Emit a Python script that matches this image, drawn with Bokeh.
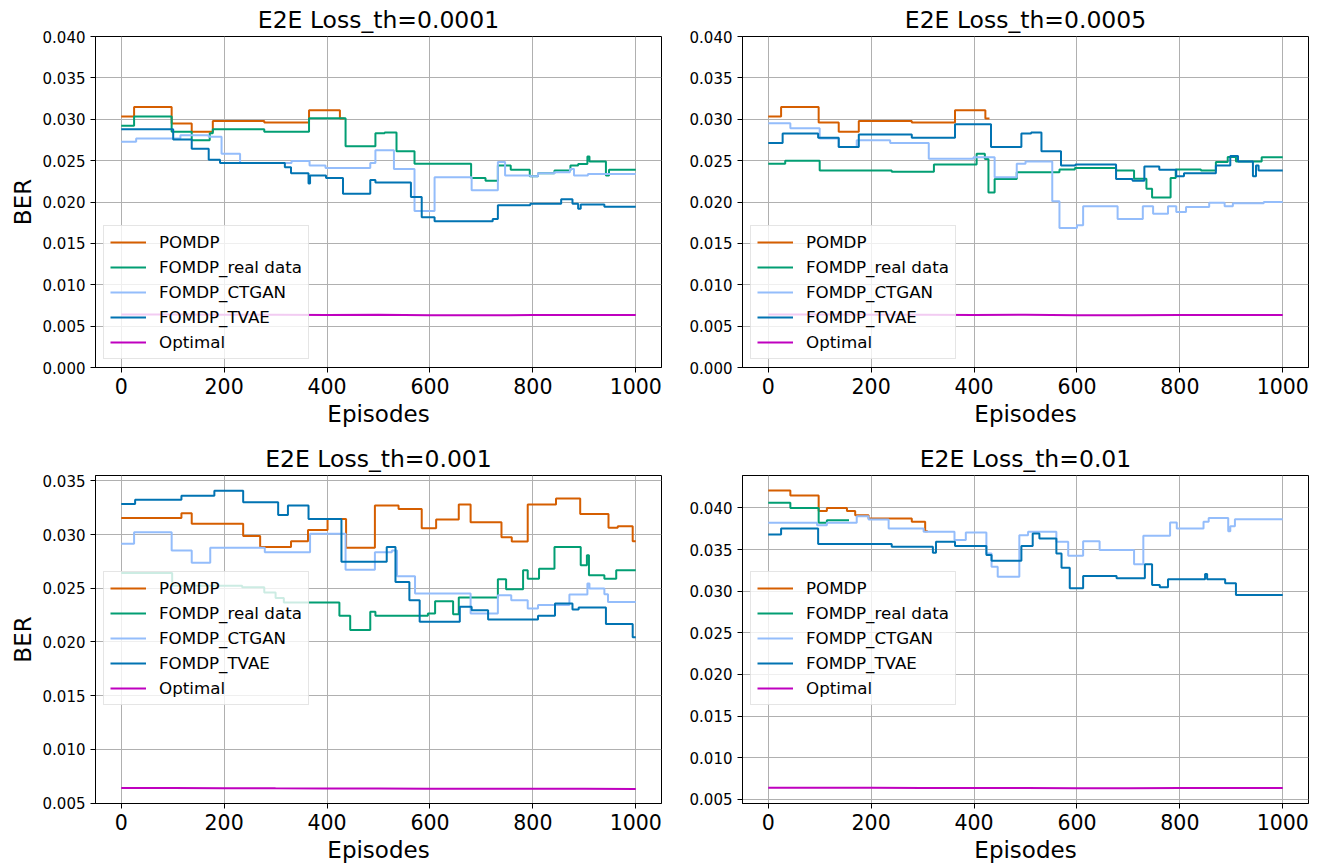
from bokeh.plotting import figure
from bokeh.layouts import gridplot
from bokeh.models import Range1d, FixedTicker, PrintfTickFormatter
from bokeh.embed import file_html
from bokeh.resources import INLINE

# ---------------- data ----------------
series_names = ["POMDP", "FOMDP_real data", "FOMDP_CTGAN", "FOMDP_TVAE", "Optimal"]
titles = ["E2E Loss_th=0.0001", "E2E Loss_th=0.0005", "E2E Loss_th=0.001", "E2E Loss_th=0.01"]
x_ticks = [0, 200, 400, 600, 800, 1000]
y_ticks_top = [0.000, 0.005, 0.010, 0.015, 0.020, 0.025, 0.030, 0.035, 0.040]
y_ticks_p3 = [0.005, 0.010, 0.015, 0.020, 0.025, 0.030, 0.035]
y_ticks_p4 = [0.005, 0.010, 0.015, 0.020, 0.025, 0.030, 0.035, 0.040]

# Panel 1: th=0.0001
p1_pomdp_x = [0, 25, 98, 137, 178, 278, 365, 425, 434]
p1_pomdp_y = [0.03033, 0.03147, 0.0295, 0.0285, 0.0298, 0.0296, 0.0311, 0.0301, 0.0301]
p1_real_x = [0, 25, 98, 137, 172, 178, 278, 365, 436, 494, 512, 535, 570, 680, 708, 732, 757,
             794, 810, 842, 873, 888, 906, 910, 942, 948, 1000]
p1_real_y = [0.02922, 0.03033, 0.0285, 0.02747, 0.0283, 0.02878, 0.0285, 0.03012, 0.02673, 0.0283,
             0.02841, 0.02612, 0.02461, 0.0229, 0.02257, 0.0244, 0.0239, 0.0231, 0.02347, 0.0238,
             0.0244, 0.0246, 0.02551, 0.0249, 0.0232, 0.0239, 0.0239]
p1_ctgan_x = [0, 29, 115, 170, 195, 231, 331, 366, 397, 484, 494, 530, 570, 609, 681, 732, 746,
              795, 810, 842, 872, 880, 907, 1000]
p1_ctgan_y = [0.02727, 0.02767, 0.02808, 0.02788, 0.02584, 0.0247, 0.02494, 0.0244, 0.02412,
              0.0247, 0.02624, 0.0240, 0.0189, 0.0230, 0.02143, 0.02482, 0.0232, 0.0231, 0.02347,
              0.0236, 0.0240, 0.0232, 0.02339, 0.02339]
p1_tvae_x = [0, 101, 137, 170, 192, 318, 330, 364, 367, 398, 431, 484, 494, 563, 584, 609, 722,
             732, 795, 855, 877, 888, 893, 939, 1000]
p1_tvae_y = [0.02878, 0.02755, 0.02645, 0.0251, 0.0247, 0.0242, 0.02347, 0.02224, 0.0232, 0.0229,
             0.0210, 0.02265, 0.02237, 0.02061, 0.01816, 0.01767, 0.01796, 0.0196, 0.0198, 0.02033,
             0.0198, 0.01918, 0.01971, 0.01943, 0.01943]
opt_x = [0, 100, 200, 300, 400, 500, 600, 700, 800, 900, 1000]
p1_opt_y = [0.0064, 0.00639, 0.00637, 0.00636, 0.00635, 0.00637, 0.00632, 0.00632, 0.00633, 0.00633, 0.00633]

# Panel 2: th=0.0005
p2_pomdp_x = [0, 25, 98, 137, 176, 279, 363, 422, 430]
p2_pomdp_y = [0.03033, 0.03147, 0.0296, 0.0285, 0.0298, 0.0296, 0.0311, 0.0301, 0.0301]
p2_real_x = [0, 33, 100, 240, 322, 405, 421, 428, 440, 483, 566, 596, 676, 711, 735, 746, 782,
             792, 841, 870, 893, 909, 959, 1000]
p2_real_y = [0.02461, 0.0250, 0.0238, 0.02367, 0.02453, 0.02584, 0.0252, 0.02114, 0.02278, 0.0236,
             0.02392, 0.0241, 0.0238, 0.0228, 0.0216, 0.02053, 0.0229, 0.02392, 0.0238, 0.02482,
             0.02543, 0.0249, 0.0254, 0.0254]
p2_ctgan_x = [0, 43, 100, 137, 172, 237, 312, 399, 440, 483, 500, 552, 566, 600, 612, 679, 728,
              748, 777, 793, 812, 857, 887, 903, 963, 1000]
p2_ctgan_y = [0.02951, 0.0289, 0.02767, 0.02665, 0.02747, 0.02714, 0.02522, 0.0254, 0.0230,
              0.02461, 0.0249, 0.0201, 0.01686, 0.0172, 0.0195, 0.01796, 0.0195, 0.01857, 0.0195,
              0.0188, 0.01939, 0.01992, 0.0195, 0.01984, 0.0200, 0.0200]
p2_tvae_x = [0, 28, 97, 137, 176, 279, 363, 433, 492, 511, 531, 569, 597, 676, 708, 731, 760, 793,
             808, 870, 898, 913, 942, 948, 953, 1000]
p2_tvae_y = [0.02714, 0.02829, 0.02776, 0.02665, 0.02816, 0.02776, 0.02939, 0.02665, 0.02829,
             0.02841, 0.02612, 0.0244, 0.02453, 0.02278, 0.02257, 0.0243, 0.0239, 0.0231, 0.02347,
             0.0244, 0.02555, 0.0249, 0.0231, 0.0244, 0.0238, 0.0238]
p2_opt_y = [0.0064, 0.00639, 0.00637, 0.00636, 0.00635, 0.00637, 0.00632, 0.00632, 0.00633, 0.00633, 0.00633]

# Panel 3: th=0.001
p3_pomdp_x = [0, 117, 137, 237, 270, 330, 363, 401, 437, 493, 539, 584, 612, 656, 679, 739, 759,
              790, 845, 892, 947, 965, 994, 1000]
p3_pomdp_y = [0.03154, 0.03198, 0.03099, 0.02985, 0.02883, 0.02938, 0.03043, 0.03145, 0.02877,
              0.03269, 0.03238, 0.03059, 0.03139, 0.03278, 0.03114, 0.02975, 0.02935, 0.03278,
              0.03336, 0.03191, 0.03062, 0.03077, 0.02938, 0.02938]
p3_real_x = [0, 99, 235, 278, 300, 316, 424, 445, 484, 494, 596, 610, 645, 656, 732, 748, 781,
             790, 812, 842, 893, 905, 909, 939, 962, 1000]
p3_real_y = [0.02642, 0.02522, 0.0251, 0.0246, 0.0241, 0.02367, 0.02244, 0.02111, 0.02281,
             0.02244, 0.02265, 0.0238, 0.02259, 0.02414, 0.02583, 0.02491, 0.02667, 0.02589,
             0.02682, 0.02883, 0.02713, 0.02806, 0.0262, 0.02589, 0.02667, 0.02667]
p3_ctgan_x = [0, 25, 98, 137, 173, 279, 367, 436, 493, 526, 536, 571, 679, 732, 758, 790, 810,
              871, 906, 910, 939, 946, 1000]
p3_ctgan_y = [0.02914, 0.03022, 0.02852, 0.02738, 0.02877, 0.02836, 0.03006, 0.02673, 0.02836,
              0.02852, 0.02611, 0.0245, 0.02265, 0.02435, 0.02389, 0.02312, 0.02343, 0.02441,
              0.02543, 0.02497, 0.02444, 0.02373, 0.02373]
p3_tvae_x = [0, 27, 117, 181, 237, 305, 324, 364, 428, 516, 533, 560, 580, 658, 681, 713, 810,
             843, 877, 889, 942, 994, 1000]
p3_tvae_y = [0.03284, 0.03324, 0.03361, 0.03407, 0.03299, 0.03182, 0.03269, 0.03145, 0.02747,
             0.02883, 0.02559, 0.02389, 0.02188, 0.02327, 0.02296, 0.0221, 0.02244, 0.02358,
             0.02302, 0.02321, 0.02167, 0.02043, 0.02043]
p3_opt_y = [0.00642, 0.00641, 0.0064, 0.00638, 0.00637, 0.00637, 0.00634, 0.00634, 0.00634, 0.00634, 0.00633]

# Panel 4: th=0.01
p4_pomdp_x = [0, 43, 98, 114, 153, 169, 195, 279, 305, 310]
p4_pomdp_y = [0.04211, 0.04151, 0.03964, 0.0400, 0.03964, 0.03912, 0.03873, 0.03833, 0.03721, 0.03721]
p4_real_x = [0, 43, 98, 114, 157]
p4_real_y = [0.04064, 0.0400, 0.03821, 0.03853, 0.03853]
p4_ctgan_x = [0, 95, 114, 172, 195, 234, 302, 362, 384, 424, 434, 446, 488, 505, 560, 583, 612,
              644, 711, 729, 781, 794, 846, 856, 894, 898, 907, 1000]
p4_ctgan_y = [0.03821, 0.03793, 0.03821, 0.0390, 0.03861, 0.03753, 0.03713, 0.03614, 0.03705,
              0.03454, 0.03295, 0.03175, 0.03673, 0.03713, 0.03594, 0.03426, 0.0360, 0.03494,
              0.03323, 0.03665, 0.03825, 0.03753, 0.03833, 0.0388, 0.03721, 0.03781, 0.03865, 0.03865]
p4_tvae_x = [0, 25, 97, 240, 320, 326, 363, 424, 434, 492, 514, 527, 560, 570, 586, 612, 677, 732,
             746, 761, 777, 849, 853, 888, 909, 1000]
p4_tvae_y = [0.03681, 0.03753, 0.03566, 0.03534, 0.03462, 0.03594, 0.03542, 0.03434, 0.03367,
             0.03542, 0.03693, 0.03633, 0.03454, 0.03283, 0.03036, 0.03183, 0.03155, 0.03323,
             0.03076, 0.03048, 0.03143, 0.03207, 0.03143, 0.03096, 0.02956, 0.02956]
p4_opt_y = [0.0064, 0.00639, 0.00638, 0.00637, 0.00636, 0.00636, 0.00634, 0.00634, 0.00635, 0.00635, 0.00635]

# ---------------- style ----------------
COLORS = ["#d55e00", "#029e73", "#94bdfb", "#0173b2", "#bf00bf"]
FONT = "DejaVu Sans"


def make_panel(title, series, opt_y, y_start, y_end, y_ticks, left_label, left, right, top, bottom,
               frame_h, legend_y):
    p = figure(width=left + 566 + right, height=top + frame_h + bottom,
               output_backend="svg", toolbar_location=None,
               x_range=Range1d(-50, 1050), y_range=Range1d(y_start, y_end),
               min_border_left=left, min_border_right=right,
               min_border_top=top, min_border_bottom=bottom)
    p.title.text = title
    p.title.text_font = FONT
    p.title.text_font_size = "23.5px"
    p.title.text_font_style = "normal"
    p.title.align = "center"
    p.title.standoff = 6
    p.title.offset = 0
    p.title.text_color = "black"

    for (xs, ys), name, col in zip(series, series_names[:4], COLORS[:4]):
        p.step(xs, ys, mode="after", line_color=col, line_width=2, legend_label=name)
    p.line(opt_x, opt_y, line_color=COLORS[4], line_width=2, legend_label=series_names[4])

    p.xaxis.ticker = FixedTicker(ticks=x_ticks)
    p.yaxis.ticker = FixedTicker(ticks=y_ticks)
    p.yaxis.formatter = PrintfTickFormatter(format="%.3f")
    p.xaxis.axis_label = "Episodes"
    if left_label:
        p.yaxis.axis_label = "BER"
    for ax in (p.xaxis, p.yaxis):
        ax.axis_label_text_font = FONT
        ax.axis_label_text_font_size = "23px"
        ax.axis_label_text_font_style = "normal"
        ax.axis_label_text_color = "black"
        ax.major_label_text_font = FONT
        ax.major_label_text_color = "black"
        ax.minor_tick_line_color = None
        ax.major_tick_out = 5
        ax.major_tick_in = 0
        ax.major_tick_line_color = "black"
        ax.axis_line_color = "black"
        ax.major_label_standoff = 5
        ax.axis_label_standoff = 4
    p.xaxis.major_label_text_font_size = "20.5px"
    p.xaxis.major_label_standoff = 5
    p.yaxis.major_label_text_font_size = "15px"

    p.grid.grid_line_color = "#b0b0b0"
    p.grid.grid_line_width = 1
    p.outline_line_color = "black"
    p.outline_line_width = 1
    p.background_fill_color = "white"
    p.border_fill_color = "white"

    lg = p.legend[0]
    lg.location = (8, legend_y)
    lg.label_text_font = FONT
    lg.label_text_font_size = "16.7px"
    lg.label_text_color = "black"
    lg.glyph_width = 36
    lg.glyph_height = 20
    lg.label_height = 20
    lg.label_standoff = 13
    lg.spacing = 5
    lg.padding = 6
    lg.margin = 0
    lg.border_line_color = "#cccccc"
    lg.border_line_width = 1
    lg.background_fill_alpha = 0.8
    return p


p1 = make_panel(titles[0],
                [(p1_pomdp_x, p1_pomdp_y), (p1_real_x, p1_real_y), (p1_ctgan_x, p1_ctgan_y), (p1_tvae_x, p1_tvae_y)],
                p1_opt_y, 0.0, 0.040, y_ticks_top, True, 95, 10, 36, 72, 331, 8)
p2 = make_panel(titles[1],
                [(p2_pomdp_x, p2_pomdp_y), (p2_real_x, p2_real_y), (p2_ctgan_x, p2_ctgan_y), (p2_tvae_x, p2_tvae_y)],
                p2_opt_y, 0.0, 0.040, y_ticks_top, False, 71, 8, 36, 72, 331, 8)
p3 = make_panel(titles[2],
                [(p3_pomdp_x, p3_pomdp_y), (p3_real_x, p3_real_y), (p3_ctgan_x, p3_ctgan_y), (p3_tvae_x, p3_tvae_y)],
                p3_opt_y, 0.00497, 0.03549, y_ticks_p3, True, 95, 10, 36, 60, 330, 98)
p4 = make_panel(titles[3],
                [(p4_pomdp_x, p4_pomdp_y), (p4_real_x, p4_real_y), (p4_ctgan_x, p4_ctgan_y), (p4_tvae_x, p4_tvae_y)],
                p4_opt_y, 0.0045, 0.0439, y_ticks_p4, False, 71, 8, 36, 60, 330, 98)

grid = gridplot([[p1, p2], [p3, p4]], toolbar_location=None)
open("out.html", "w").write(file_html(grid, INLINE))
